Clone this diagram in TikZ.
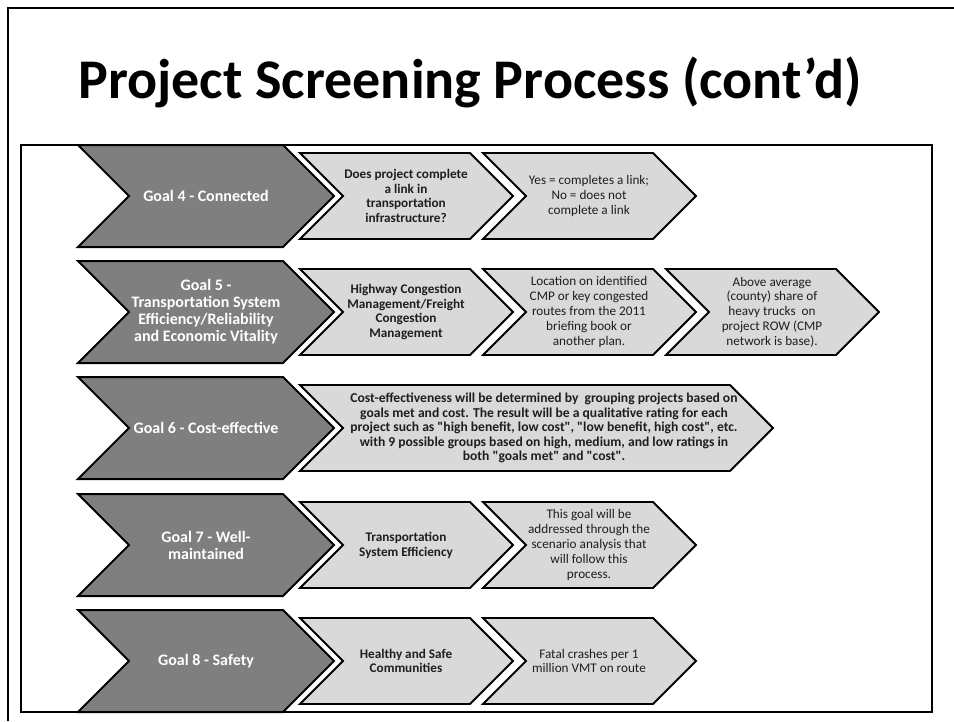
\documentclass[tikz,border=0pt]{standalone}
\usepackage{fontspec}
\setmainfont{Carlito}[Ligatures=TeXOff]

\definecolor{goalgray}{HTML}{7F7F7F}
\definecolor{stepgray}{HTML}{D9D9D9}
\definecolor{inkgray}{HTML}{1E1E1E}

% chevron: style, left x, centre y, body width, half height
\newcommand{\chevron}[5]{%
  \draw[#1] (#2,#3) ++(0,-#5) -- ++(#4,0) -- ++(#5,#5) -- ++(-#5,#5) -- ++(-#4,0) -- ++(#5,-#5) -- cycle;}

\tikzset{
  goalchev/.style={fill=goalgray, draw=black, line width=2pt, line join=miter},
  stepchev/.style={fill=stepgray, draw=black, line width=1.8pt, line join=miter},
  goaltext/.style={text=white, font=\fontsize{16}{17}\selectfont\bfseries, align=center, inner sep=0pt},
  steptext/.style={text=inkgray, font=\fontsize{13.2}{14.8}\selectfont, align=center, inner sep=0pt},
  stepbold/.style={steptext, font=\fontsize{13.2}{14.8}\selectfont\bfseries},
}

\begin{document}
\begin{tikzpicture}[x=1pt,y=-1pt]
		\useasboundingbox (0,0) rectangle (954,721);
		% slide frame and box
		\draw[line width=2pt] (8,721) -- (8,8) -- (954,8);
		\draw[line width=2.5pt] (21,145) rectangle (932,712);

		\node[anchor=base, font=\fontsize{56}{60}\selectfont\bfseries] (title) at (470,98) {Project Screening Process (cont’d)};

		% goal 4
		\chevron{goalchev}{78}{196}{205}{51}
		\chevron{stepchev}{300}{196}{170}{43}
		\chevron{stepchev}{483}{196}{170}{43}
		\node[goaltext] (g4) at (206,196) {Goal 4 - Connected};
		\node[stepbold] (g4a) at (406,196) {Does project complete\\a link in\\transportation\\infrastructure?};
		\node[steptext] (g4b) at (589,196) {Yes = completes a link;\\No = does not\\complete a link};

		% goal 5
		\chevron{goalchev}{78}{312}{205}{51}
		\chevron{stepchev}{300}{312}{170}{43}
		\chevron{stepchev}{483}{312}{170}{43}
		\chevron{stepchev}{666}{312}{170}{43}
		\node[goaltext] (g5) at (206,312) {Goal 5 -\\Transportation System\\Efficiency/Reliability\\and Economic Vitality};
		\node[stepbold] (g5a) at (406,312) {Highway Congestion\\Management/Freight\\Congestion\\Management};
		\node[steptext] (g5b) at (589,312) {Location on identified\\CMP or key congested\\routes from the 2011\\briefing book or\\another plan.};
		\node[steptext] (g5c) at (772,312) {Above average\\(county) share of\\heavy trucks~ on\\project ROW (CMP\\network is base).};

		% goal 6
		\chevron{goalchev}{78}{428}{205}{51}
		\chevron{stepchev}{300}{428}{430}{43}
		\node[goaltext] (g6) at (206,428) {Goal 6 - Cost-effective};
		\node[stepbold, font=\fontsize{13.6}{14.4}\selectfont\bfseries] (g6a) at (544,428) {Cost-effectiveness will be determined by~ grouping projects based on\\goals met and cost. The result will be a qualitative rating for each\\project such as "high benefit, low cost", "low benefit, high cost", etc.\\with 9 possible groups based on high, medium, and low ratings in\\both "goals met" and "cost".};

		% goal 7
		\chevron{goalchev}{78}{545}{205}{51}
		\chevron{stepchev}{300}{545}{170}{43}
		\chevron{stepchev}{483}{545}{170}{43}
		\node[goaltext] (g7) at (206,545) {Goal 7 - Well-\\maintained};
		\node[stepbold] (g7a) at (406,545) {Transportation\\System Efficiency};
		\node[steptext] (g7b) at (589,545) {This goal will be\\addressed through the\\scenario analysis that\\will follow this\\process.};

		% goal 8
		\chevron{goalchev}{78}{661}{205}{51}
		\chevron{stepchev}{300}{661}{170}{43}
		\chevron{stepchev}{483}{661}{170}{43}
		\node[goaltext] (g8) at (206,661) {Goal 8 - Safety};
		\node[stepbold] (g8a) at (406,661) {Healthy and Safe\\Communities};
		\node[steptext] (g8b) at (589,661) {Fatal crashes per 1\\million VMT on route};
	\end{tikzpicture}
\end{document}
